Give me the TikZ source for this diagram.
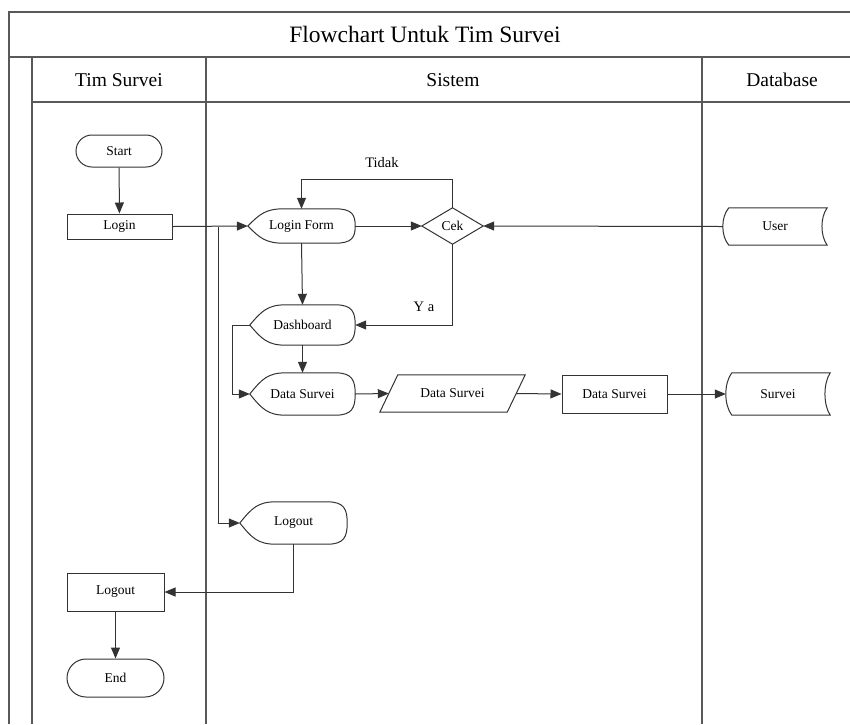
\documentclass[tikz,border=0pt]{standalone}
\usepackage{fontspec}
\setmainfont{Liberation Serif}
\usetikzlibrary{arrows.meta,calc,shapes.misc}

\newcommand\dispshape[1]{%
 \draw[shp] (#1.west) .. controls ($(#1.west)!0.7!(#1.north west)+(12,0)$) and ($(#1.north west)+(18,0)$) .. ($(#1.north west)+(36,0)$)
  -- ($(#1.north east)+(-20,0)$) .. controls ($(#1.north east)+(-3,0)$) and ($(#1.east)!0.65!(#1.north east)$) .. (#1.east)
  .. controls ($(#1.east)!0.65!(#1.south east)$) and ($(#1.south east)+(-3,0)$) .. ($(#1.south east)+(-20,0)$)
  -- ($(#1.south west)+(36,0)$) .. controls ($(#1.south west)+(18,0)$) and ($(#1.west)!0.7!(#1.south west)+(12,0)$) .. (#1.west) -- cycle;}
\newcommand\storeshape[1]{%
 \draw[shp] ($(#1.north west)+(6,0)$) -- (#1.north east)
  .. controls ($(#1.north east)!0.5!(#1.east)+(-7,0)$) and ($(#1.south east)!0.5!(#1.east)+(-7,0)$) .. (#1.south east)
  -- ($(#1.south west)+(6,0)$)
  .. controls ($(#1.south west)!0.5!(#1.west)+(-2,0)$) and ($(#1.north west)!0.5!(#1.west)+(-2,0)$) .. ($(#1.north west)+(6,0)$) -- cycle;}
\newcommand\diashape[1]{\draw[shp] (#1.north) -- (#1.east) -- (#1.south) -- (#1.west) -- cycle;}
\newcommand\parashape[1]{\draw[shp] ($(#1.north west)+(9,0)$) -- ($(#1.north east)+(9,0)$) -- ($(#1.south east)+(-9,0)$) -- ($(#1.south west)+(-9,0)$) -- cycle;}

\begin{document}
\begin{tikzpicture}[x=1pt,y=-1pt,
  frame/.style={line width=1.4pt, draw=black!65},
  shp/.style={line width=1pt, draw=black!80},
  conn/.style={line width=1pt, draw=black!80},
  arr/.style={conn,-{Triangle[length=11pt,width=9pt]}},
  blk/.style={inner sep=0pt, font=\fontsize{13.5}{15}\selectfont, text=black},
  rectbox/.style={blk, draw=black!80, line width=1pt},
  term/.style={blk, rounded rectangle, draw=black!80, line width=1pt},
  hdr/.style={font=\fontsize{19.5}{22}\selectfont, text=black},
  lbl/.style={font=\fontsize{14.5}{16}\selectfont, text=black}
]
\useasboundingbox (0,0) rectangle (850,724);
\fill[white] (0,0) rectangle (850,724);

% frame
\draw[frame] (9,724) -- (9,12) -- (850,12);
\draw[frame] (9,57) -- (850,57);
\draw[frame] (32,724) -- (32,57);
\draw[frame] (32,102) -- (850,102);
\draw[frame] (206,57) -- (206,724);
\draw[frame] (702,57) -- (702,724);

\node[font=\fontsize{23.5}{26}\selectfont] (title) at (425,34) {Flowchart Untuk Tim Survei};
\node[hdr] (h1) at (119,80) {Tim Survei};
\node[hdr] (h2) at (453,80) {Sistem};
\node[hdr] (h3) at (782,80) {Database};

% nodes
\node[term, minimum width=86pt, minimum height=32pt] (start) at (119,151) {Start};
\node[rectbox, minimum width=105pt, minimum height=25pt] (login) at (119.5,226.5) {Login};
\node[blk, minimum width=107pt, minimum height=34pt] (lf) at (301.5,226) {Login Form};
\node[blk, minimum width=61pt, minimum height=36pt] (cek) at (452.5,226) {Cek};
\node[blk, minimum width=104pt, minimum height=37pt] (user) at (775,226.5) {User};
\node[blk, minimum width=105pt, minimum height=40pt] (dash) at (302.5,325) {Dashboard};
\node[blk, minimum width=105pt, minimum height=42pt] (ds1) at (302.5,394) {Data Survei};
\node[blk, minimum width=127pt, minimum height=37pt] (ds2) at (452.5,393.5) {Data Survei};
\node[rectbox, minimum width=105pt, minimum height=38pt] (ds3) at (614.5,394) {Data Survei};
\node[blk, minimum width=104pt, minimum height=42pt] (survei) at (778,394) {Survei};
\node[blk, minimum width=107pt, minimum height=42pt] (lod) at (293.5,523) {Logout};
\node[rectbox, minimum width=97pt, minimum height=38pt] (lor) at (115.5,592) {Logout};
\node[term, minimum width=97pt, minimum height=38pt] (end) at (115.5,678) {End};

\dispshape{lf}
\dispshape{dash}
\dispshape{ds1}
\dispshape{lod}
\diashape{cek}
\storeshape{user}
\storeshape{survei}
\parashape{ds2}

% connectors
\coordinate (j1) at (218,226.5);
\coordinate (j2) at (232,325);
\coordinate (t1) at (452.5,179);

\draw[arr] (start) -- (login);
\draw[arr] (login.east) -- (lf.west);
\draw[arr] (j1) |- (lod.west);
\draw[arr] (lf.east) -- (cek.west);
\draw[arr] (user.west) -- (cek.east);
\draw[arr] (cek.north) -- (t1) -| (lf.north);
\draw[arr] (cek.south) |- (dash.east);
\draw[arr] (lf.south) -- (dash.north);
\draw[arr] (dash.south) -- (ds1.north);
\draw[arr] (dash.west) -- (j2) |- (ds1.west);
\draw[arr] (ds1.east) -- (ds2.west);
\draw[arr] (ds2.east) -- (ds3.west);
\draw[arr] (ds3.east) -- (survei.west);
\draw[arr] (lod.south) |- (lor.east);
\draw[arr] (lor.south) -- (end.north);

\node[lbl] (tidak) at (382,163) {Tidak};
\node[lbl] (ya) at (424,307) {Y a};
\end{tikzpicture}
\end{document}
